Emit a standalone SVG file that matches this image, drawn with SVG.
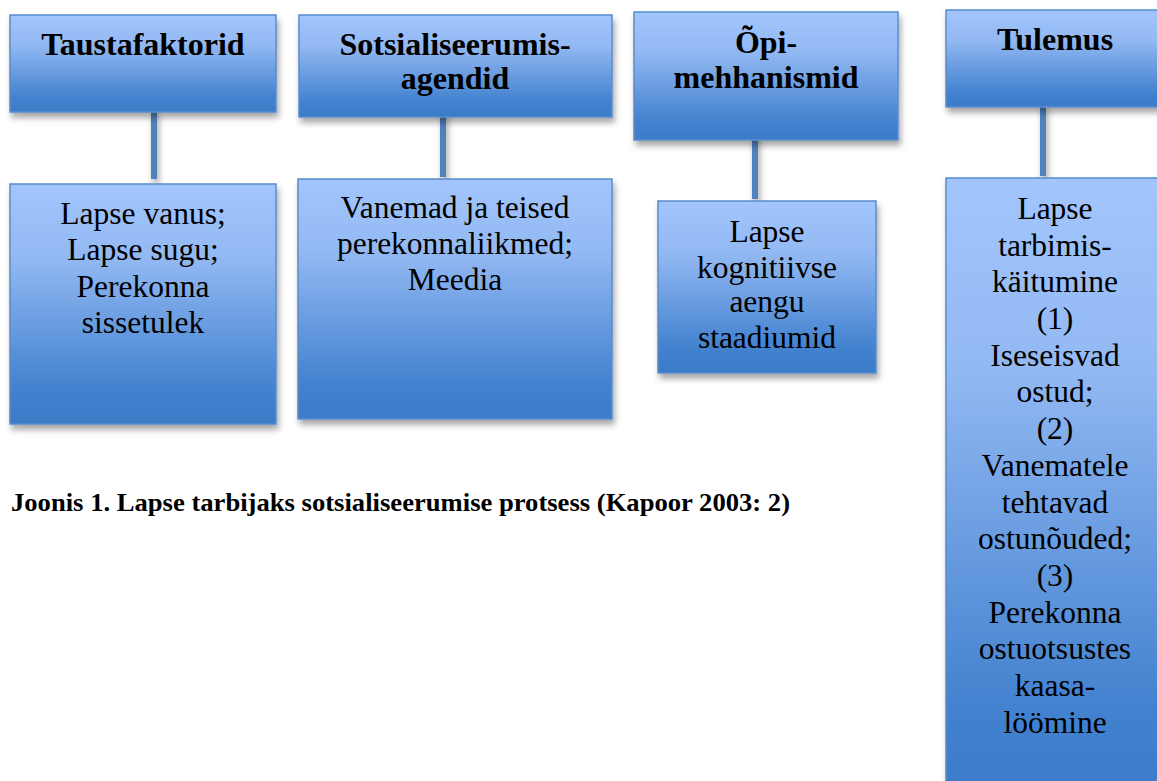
<svg xmlns="http://www.w3.org/2000/svg" width="1157" height="781" viewBox="0 0 1157 781">
<defs>
<linearGradient id="g" x1="0" y1="0" x2="0" y2="1">
<stop offset="0" stop-color="#a2c5fc"/>
<stop offset="0.3" stop-color="#93b9f3"/>
<stop offset="0.85" stop-color="#4382cf"/>
<stop offset="1" stop-color="#3b7bc8"/>
</linearGradient>
<filter id="sh" filterUnits="userSpaceOnUse" x="0" y="0" width="1157" height="781">
<feDropShadow dx="2" dy="5" stdDeviation="3" flood-color="#000" flood-opacity="0.35"/>
</filter>
<style>
.box{fill:url(#g);stroke:#5a8ccc;stroke-width:1.5;filter:url(#sh)}
.h{font-family:"Liberation Serif","Times New Roman",serif;font-weight:bold;font-size:32px;fill:#000;text-anchor:middle}
.t{font-family:"Liberation Serif","Times New Roman",serif;font-size:31.5px;fill:#000;text-anchor:middle}
.c{fill:#4f81bd;filter:url(#sh)}
.cap{font-family:"Liberation Serif","Times New Roman",serif;font-weight:bold;font-size:26px;fill:#000}
</style>
</defs>
<rect width="1157" height="781" fill="#fff"/>
<g id="connectors">
<rect class="c" x="151" y="108" width="6" height="71"/>
<rect class="c" x="440" y="110" width="6" height="67"/>
<rect class="c" x="752" y="132" width="6" height="67"/>
<rect class="c" x="1040" y="104" width="6" height="72"/>
</g>
<g id="n1">
<rect class="box" x="10" y="15" width="266" height="97"/>
<text class="h" x="143" y="55">Taustafaktorid</text>
</g>
<g id="n2">
<rect class="box" x="299" y="15" width="313" height="102"/>
<text class="h" x="455" y="55">Sotsialiseerumis-</text>
<text class="h" x="455" y="89">agendid</text>
</g>
<g id="n3">
<rect class="box" x="634" y="12" width="264" height="128"/>
<text class="h" x="766" y="53">Õpi-</text>
<text class="h" x="766" y="88">mehhanismid</text>
</g>
<g id="n4">
<rect class="box" x="946" y="10" width="230" height="97"/>
<text class="h" x="1055" y="50">Tulemus</text>
</g>
<g id="n5">
<rect class="box" x="10" y="184" width="266" height="240"/>
<text class="t" x="143" y="224">Lapse vanus;</text>
<text class="t" x="143" y="260">Lapse sugu;</text>
<text class="t" x="143" y="297">Perekonna</text>
<text class="t" x="143" y="333">sissetulek</text>
</g>
<g id="n6">
<rect class="box" x="298" y="179" width="314" height="240"/>
<text class="t" x="455" y="218">Vanemad ja teised</text>
<text class="t" x="455" y="254">perekonnaliikmed;</text>
<text class="t" x="455" y="290">Meedia</text>
</g>
<g id="n7">
<rect class="box" x="658" y="201" width="218" height="172"/>
<text class="t" x="767" y="242">Lapse</text>
<text class="t" x="767" y="278">kognitiivse</text>
<text class="t" x="767" y="312">aengu</text>
<text class="t" x="767" y="348">staadiumid</text>
</g>
<g id="n8">
<rect class="box" x="946" y="178" width="230" height="620"/>
<text class="t" x="1055" y="219">Lapse</text>
<text class="t" x="1055" y="256">tarbimis-</text>
<text class="t" x="1055" y="292">käitumine</text>
<text class="t" x="1055" y="329">(1)</text>
<text class="t" x="1055" y="366">Iseseisvad</text>
<text class="t" x="1055" y="402">ostud;</text>
<text class="t" x="1055" y="439">(2)</text>
<text class="t" x="1055" y="476">Vanematele</text>
<text class="t" x="1055" y="513">tehtavad</text>
<text class="t" x="1055" y="549">ostunõuded;</text>
<text class="t" x="1055" y="586">(3)</text>
<text class="t" x="1055" y="623">Perekonna</text>
<text class="t" x="1055" y="659">ostuotsustes</text>
<text class="t" x="1055" y="696">kaasa-</text>
<text class="t" x="1055" y="733">löömine</text>
</g>
<text class="cap" x="11" y="511" textLength="779" lengthAdjust="spacingAndGlyphs">Joonis 1. Lapse tarbijaks sotsialiseerumise protsess (Kapoor 2003: 2)</text>
</svg>
